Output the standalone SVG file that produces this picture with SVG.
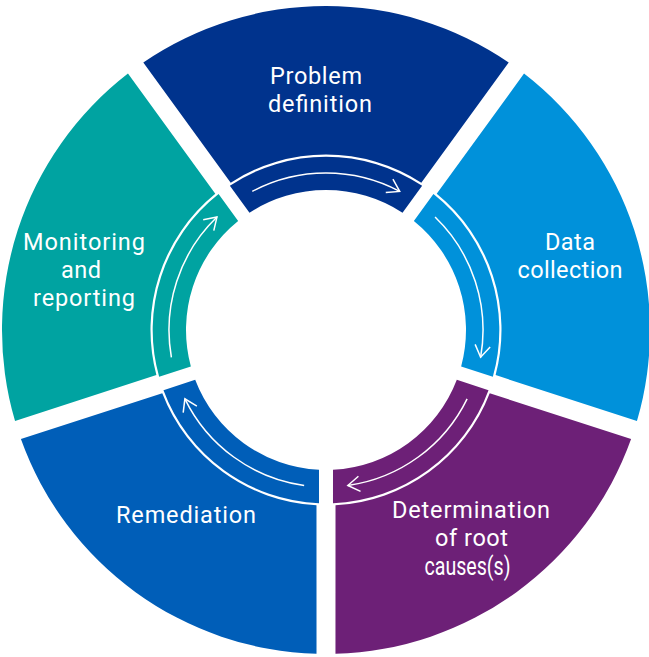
<svg xmlns="http://www.w3.org/2000/svg" width="649" height="657" viewBox="0 0 649 657">
<style>
.lbl{font-family:Roboto,"Noto Sans","Liberation Sans",sans-serif;font-size:23.5px;fill:#fff;text-anchor:middle}
.arr{fill:none;stroke:#fff;stroke-width:1.5;marker-end:url(#ah)}
</style>
<defs>
<path id="outer" d="M143.30,62.41 A324,324 0 0 1 508.70,62.41 L421.31,182.63 A175.5,175.5 0 0 0 230.69,182.63 Z"/>
<path id="inner" d="M229.87,185.80 A173.3,173.3 0 0 1 422.13,185.80 L402.52,212.76 A140,140 0 0 0 249.48,212.76 Z"/>
<marker id="ah" markerUnits="userSpaceOnUse" markerWidth="30" markerHeight="30" viewBox="-15 -15 30 30" refX="0" refY="0" orient="auto" overflow="visible"><path d="M-11.74,-7.62 L0,0 L-11.74,7.62" fill="none" stroke="#fff" stroke-width="1.5"/></marker>
</defs>
<rect width="649" height="657" fill="#fff"/>
<g id="problem-definition" fill="#00338D">
<use href="#outer"/><use href="#inner"/>
<text class="lbl" x="316" y="84" textLength="92">Problem</text>
<text class="lbl" x="320" y="112" textLength="104">definition</text>
</g>
<g id="data-collection" fill="#0091DA">
<use href="#outer" transform="rotate(72 326 330)"/><use href="#inner" transform="rotate(72 326 330)"/>
<text class="lbl" x="570" y="249.5" textLength="50">Data</text>
<text class="lbl" x="570" y="278" textLength="105">collection</text>
</g>
<g id="determination" fill="#6D2077">
<use href="#outer" transform="rotate(144 326 330)"/><use href="#inner" transform="rotate(144 326 330)"/>
<text class="lbl" x="471" y="518" textLength="158">Determination</text>
<text class="lbl" x="471.5" y="546" textLength="73">of root</text>
<text class="lbl" x="467.5" y="575" style="font-size:25px" textLength="86" lengthAdjust="spacingAndGlyphs">causes(s)</text>
</g>
<g id="remediation" fill="#005EB8">
<use href="#outer" transform="rotate(216 326 330)"/><use href="#inner" transform="rotate(216 326 330)"/>
<text class="lbl" x="186" y="523" textLength="140">Remediation</text>
</g>
<g id="monitoring" fill="#00A3A1">
<use href="#outer" transform="rotate(288 326 330)"/><use href="#inner" transform="rotate(288 326 330)"/>
<text class="lbl" x="84" y="249.5" textLength="122">Monitoring</text>
<text class="lbl" x="81" y="277.5" textLength="40">and</text>
<text class="lbl" x="84" y="306" textLength="102">reporting</text>
</g>
<g id="connectors">
<path class="arr" d="M252.29,191.38 A157,157 0 0 1 399.71,191.38"/>
<path class="arr" d="M252.29,191.38 A157,157 0 0 1 399.71,191.38" transform="rotate(72 326 330)"/>
<path class="arr" d="M252.29,191.38 A157,157 0 0 1 399.71,191.38" transform="rotate(144 326 330)"/>
<path class="arr" d="M252.29,191.38 A157,157 0 0 1 399.71,191.38" transform="rotate(216 326 330)"/>
<path class="arr" d="M252.29,191.38 A157,157 0 0 1 399.71,191.38" transform="rotate(288 326 330)"/>
</g>
</svg>
